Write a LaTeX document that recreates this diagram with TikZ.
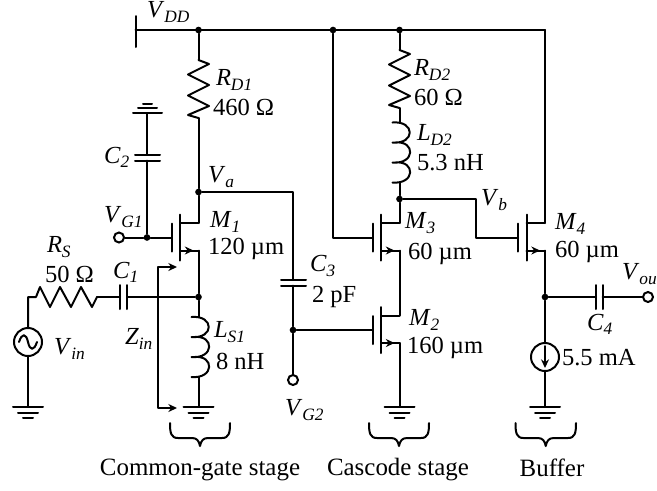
\documentclass[tikz,border=0pt]{standalone}
\usepackage{fontspec}
\setmainfont{Liberation Serif}
\usetikzlibrary{arrows.meta,calc}
\newcommand{\sbs}[2]{\textit{#1}\raisebox{-0.17em}{\fontsize{13}{14}\selectfont\textit{#2}}}
\tikzset{
 wire/.style={line width=1.5pt,line cap=round,line join=round},
 tipped/.style={wire,-{Stealth[length=6.5pt,width=6pt]}},
 bothtip/.style={wire,{Stealth[length=6.5pt,width=6pt]}-{Stealth[length=6.5pt,width=6pt]}},
 txt/.style={inner sep=0pt,outer sep=0pt,anchor=west,font=\fontsize{18.4}{20}\selectfont},
 cap txt/.style={inner sep=0pt,outer sep=0pt,anchor=center,font=\fontsize{18.7}{20}\selectfont},
 dot/.style={circle,fill=black,inner sep=0pt,minimum size=5pt},
 term/.style={circle,draw,line width=1.5pt,fill=white,inner sep=0pt,minimum size=7.5pt},
 src/.style={circle,draw,line width=1.5pt,inner sep=0pt,minimum size=21pt},
}
% vertical zigzag resistor
\newcommand{\vres}[2]{%
 \draw[wire] (#1,#2) -- (#1+10.5,#2+4) -- (#1-10.5,#2+14.5) -- (#1+10.5,#2+25) -- (#1-10.5,#2+35.5) -- (#1+10.5,#2+46) -- (#1-10.5,#2+55) -- (#1,#2+58);}
% vertical coil, three bumps
\newcommand{\vcoil}[2]{%
 \draw[wire] (#1-7,#2) .. controls (#1+16,#2-2) and (#1+16,#2+22) .. (#1-7,#2+20)
   (#1-4,#2+20) .. controls (#1+16,#2+18) and (#1+16,#2+42) .. (#1-7,#2+40)
   (#1-4,#2+40) .. controls (#1+16,#2+38) and (#1+16,#2+62) .. (#1-7,#2+60);}
% MOSFET: name, drain/source x, gate y
\newcommand{\mos}[3]{%
 \coordinate (#1g) at (#2-27,#3);
 \coordinate (#1d) at (#2,#3-14.5);
 \coordinate (#1s) at (#2,#3+13);
 \draw[wire] (#2-27,#3-14) -- (#2-27,#3+14);
 \draw[wire] (#2-18.5,#3-23) -- (#2-18.5,#3+23);
 \draw[wire] (#2-18.5,#3-14.5) -- (#1d);
 \draw[wire] (#2-18.5,#3+13) -- (#1s);
 \draw[tipped] (#2-18.5,#3+13) -- (#2-5,#3+13);}
% ground: name, x, y
\newcommand{\gnd}[3]{%
 \coordinate (#1) at (#2,#3);
 \draw[wire] (#2-15,#3) -- (#2+15,#3) (#2-10,#3+6) -- (#2+10,#3+6) (#2-5,#3+11) -- (#2+5,#3+11);}
% brace: x left, x right
\newcommand{\mybrace}[2]{%
 \draw[wire] (#1,423) .. controls (#1,433) and (#1+1,438) .. (#1+8,438) -- (#1/2+#2/2-8,438)
   .. controls (#1/2+#2/2-3,438) and (#1/2+#2/2-1,441) .. (#1/2+#2/2,446)
   .. controls (#1/2+#2/2+1,441) and (#1/2+#2/2+3,438) .. (#1/2+#2/2+8,438) -- (#2-8,438)
   .. controls (#2-1,438) and (#2,433) .. (#2,423);}
\begin{document}
\begin{tikzpicture}[x=0.75pt,y=-0.75pt]
\useasboundingbox (0,0) rectangle (657,490);
% rail
\coordinate (vddL) at (135.5,30);
\coordinate (railR) at (545,30);
\draw[wire] (135.5,16) -- (135.5,47);
\draw[wire] (vddL) -- (railR);
\node[dot] (j1) at (198.5,30) {};
\node[dot] (j2) at (333,30) {};
\node[dot] (j3) at (399.5,30) {};
% M1 branch
\mos{mA}{198.5}{237.5}
\coordinate (rd1t) at (198.5,60);
\coordinate (rd1b) at (198.5,118);
\draw[wire] (j1) -- (rd1t);
\vres{198.5}{60}
\node[dot] (va) at (198.5,192) {};
\draw[wire] (rd1b) -- (va) -- (mAd);
\node[dot] (js1) at (198.5,297) {};
\draw[wire] (mAs) -- (js1);
\coordinate (ls1t) at (198.5,317);
\coordinate (ls1b) at (198.5,377);
\draw[wire] (js1) -- (ls1t);
\vcoil{198.5}{317}
\gnd{g1}{198.5}{406.5}
\draw[wire] (ls1b) -- (g1);
% gate M1
\node[term] (vg1) at (119,237.5) {};
\node[dot] (jg1) at (147,237.5) {};
\draw[wire] (vg1) -- (jg1) -- (mAg);
\coordinate (c2b) at (147,160.5);
\coordinate (c2t) at (147,154.5);
\draw[wire] (jg1) -- (c2b);
\draw[wire] (135,160.5) -- (160,160.5) (135,154.5) -- (160,154.5);
\coordinate (g2) at (147,113);
\draw[wire] (c2t) -- (g2);
\draw[wire] (133,113) -- (162,113) (138,108) -- (157,108) (143,104) -- (152,104);
% Va to C3
\coordinate (vaR) at (293,192);
\coordinate (c3t) at (293,279.5);
\coordinate (c3b) at (293,285.5);
\draw[wire] (va) -- (vaR) -- (c3t);
\draw[wire] (281,279.5) -- (306,279.5) (281,285.5) -- (306,285.5);
\node[dot] (jc3) at (293,330) {};
\node[term] (vg2) at (293,380) {};
\draw[wire] (c3b) -- (jc3) -- (vg2);
% M2, M3
\mos{mB}{399.5}{330}
\mos{mC}{399.5}{237.5}
\draw[wire] (jc3) -- (mBg);
\draw[wire] (mCs) -- (mBd);
\gnd{g3}{399.5}{406.5}
\draw[wire] (mBs) -- (g3);
\coordinate (m3in) at (333,237.5);
\draw[wire] (j2) -- (m3in) -- (mCg);
% RD2, LD2
\coordinate (rd2t) at (399.5,50);
\coordinate (rd2b) at (399.5,108);
\coordinate (ld2t) at (399.5,122);
\coordinate (ld2b) at (399.5,183);
\draw[wire] (j3) -- (rd2t);
\vres{399.5}{50}
\draw[wire] (rd2b) -- (ld2t);
\vcoil{399.5}{122.5}
\node[dot] (vb) at (399.5,199) {};
\draw[wire] (ld2b) -- (vb) -- (mCd);
% M4
\mos{mD}{545}{237.5}
\coordinate (vb1) at (476,199);
\coordinate (vb2) at (476,237.5);
\draw[wire] (vb) -- (vb1) -- (vb2) -- (mDg);
\draw[wire] (railR) -- (mDd);
\node[dot] (jo) at (545,297) {};
\draw[wire] (mDs) -- (jo);
\node[src] (isrc) at (545,357) {};
\draw[wire] (jo) -- (isrc);
\coordinate (iat) at (545,346);
\coordinate (iab) at (545,368);
\draw[tipped] (iat) -- (iab);
\gnd{g4}{545}{406.5}
\draw[wire] (isrc) -- (g4);
% C4
\coordinate (c4l) at (596,297);
\coordinate (c4r) at (602.5,297);
\node[term] (vout) at (648,297) {};
\draw[wire] (jo) -- (c4l) (c4r) -- (vout);
\draw[wire] (596,285) -- (596,309) (602.5,285) -- (602.5,309);
% input
\node[src] (vs) at (28,342) {};
\draw[wire] (19,342) .. controls (22,333) and (26,333) .. (28,342) .. controls (30,351) and (34,351) .. (37,342);
\coordinate (rsl) at (28,297);
\coordinate (rsr) at (97,297);
\draw[wire] (vs) -- (rsl) -- (36,297) -- (40,287) -- (50,307) -- (60,287) -- (71,307) -- (81,287) -- (92,307) -- (rsr);
\gnd{g0}{28}{406.5}
\draw[wire] (vs) -- (g0);
\coordinate (c1l) at (120,297);
\coordinate (c1r) at (127,297);
\draw[wire] (rsr) -- (c1l) (c1r) -- (js1);
\draw[wire] (120,285) -- (120,309) (127,285) -- (127,309);
% Zin
\coordinate (zt) at (157.5,267);
\coordinate (zb) at (157.5,408);
\coordinate (ztt) at (177,267);
\coordinate (zbt) at (177,408);
\draw[bothtip] (ztt) -- (zt) -- (zb) -- (zbt);
% braces
\mybrace{170}{230}
\mybrace{369}{429}
\mybrace{515.5}{576}
% labels
\node[txt] (lvdd) at (147,12) {\sbs{V}{DD}};
\node[txt] (lrd1) at (216,80) {\sbs{R}{D1}};
\node[txt] (v460) at (213,107) {460 Ω};
\node[txt] (lc2) at (104,157) {\sbs{C}{2}};
\node[txt] (lva) at (208,177) {\sbs{V}{a}};
\node[txt] (lvg1) at (104,217) {\sbs{V}{G1}};
\node[txt] (lm1) at (210,222) {\sbs{M}{1}};
\node[txt] (v120) at (208,249) {120 µm};
\node[txt] (lrs) at (47,247) {\sbs{R}{S}};
\node[txt] (v50) at (45,274) {50 Ω};
\node[txt] (lc1) at (113,272) {\sbs{C}{1}};
\node[txt] (lvin) at (54,349) {\sbs{V}{in}};
\node[txt] (lzin) at (125,339) {\sbs{Z}{in}};
\node[txt] (lls1) at (214,332) {\sbs{L}{S1}};
\node[txt] (v8) at (216,361) {8 nH};
\node[txt] (lc3) at (310,266) {\sbs{C}{3}};
\node[txt] (v2) at (312,297) {2 pF};
\node[txt] (lvg2) at (285,410) {\sbs{V}{G2}};
\node[txt] (lrd2) at (414,70) {\sbs{R}{D2}};
\node[txt] (v60a) at (414,97) {60 Ω};
\node[txt] (lld2) at (417,135) {\sbs{L}{D2}};
\node[txt] (v53) at (417,163) {5.3 nH};
\node[txt] (lvb) at (481,200) {\sbs{V}{b}};
\node[txt] (lm3) at (405,223) {\sbs{M}{3}};
\node[txt] (v60b) at (408,254) {60 µm};
\node[txt] (lm4) at (555,224) {\sbs{M}{4}};
\node[txt] (v60c) at (555,252) {60 µm};
\node[txt] (lm2) at (409,320) {\sbs{M}{2}};
\node[txt] (v160) at (407,348) {160 µm};
\node[txt] (lc4) at (587,324) {\sbs{C}{4}};
\node[txt] (v55) at (562,358) {5.5 mA};
\node[txt] (lvou) at (622,274) {\sbs{V}{ou}};
\node[cap txt] (t1) at (200,470) {Common-gate stage};
\node[cap txt] (t2) at (398,470) {Cascode stage};
\node[cap txt] (t3) at (552,468) {Buffer};
\end{tikzpicture}
\end{document}
